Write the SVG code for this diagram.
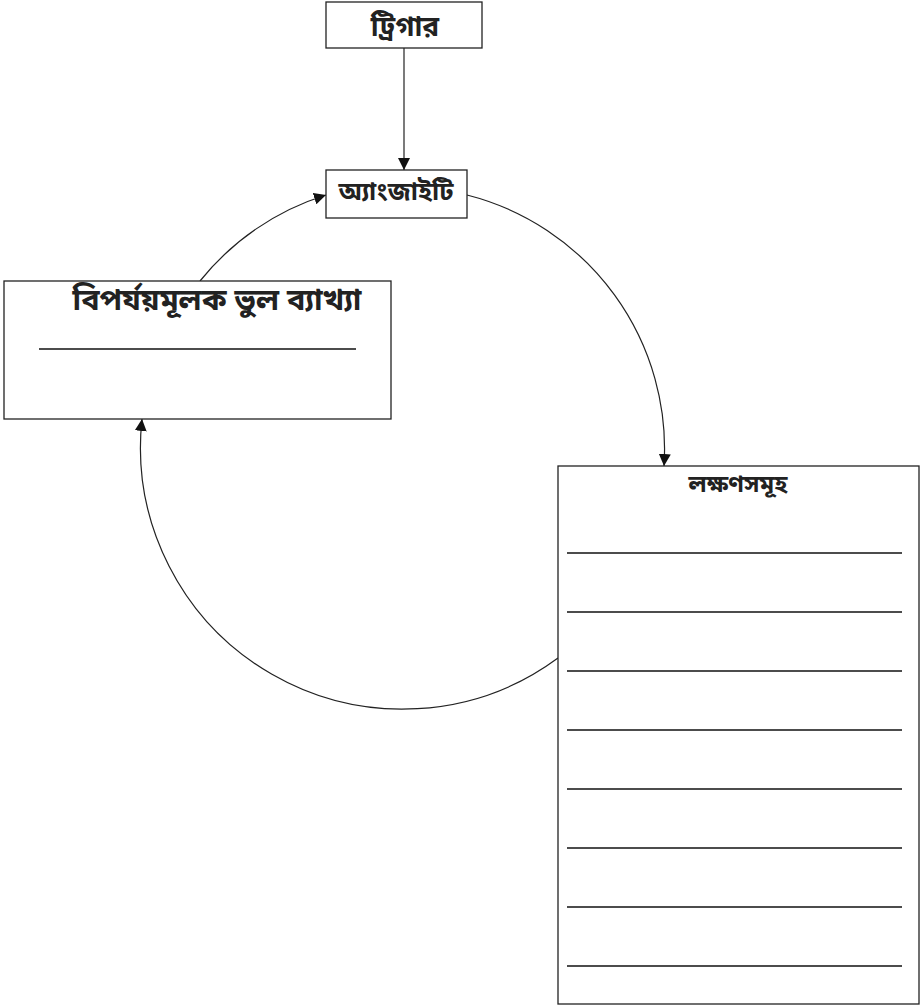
<svg xmlns="http://www.w3.org/2000/svg" width="923" height="1006" viewBox="0 0 923 1006">
<style>
.box{fill:#fff;stroke:#222;stroke-width:1.3}
.t{font-family:"Noto Sans Bengali","Noto Sans","Noto Sans CJK SC",sans-serif;font-weight:bold;fill:#222;text-anchor:middle}
.rule{stroke:#111;stroke-width:1.3}
.conn{fill:none;stroke:#222;stroke-width:1.2}
</style>
<defs>
<marker id="ah" viewBox="0 0 10 10" refX="10" refY="5" markerWidth="12" markerHeight="12" markerUnits="userSpaceOnUse" orient="auto">
<path d="M0,0 L10,5 L0,10 Z" fill="#111"/>
</marker>
</defs>
<rect width="923" height="1006" fill="#fff"/>
<g id="connectors">
<line class="conn" x1="404" y1="48" x2="404" y2="170" marker-end="url(#ah)"/>
<path class="conn" d="M467,195 A262,262 0 0 1 664,466" marker-end="url(#ah)"/>
<path class="conn" d="M558,658 A262,262 0 0 1 142,419" marker-end="url(#ah)"/>
<path class="conn" d="M200,281 A262,262 0 0 1 326,195" marker-end="url(#ah)"/>
</g>
<g id="trigger">
<rect class="box" x="326" y="2" width="156" height="46"/>
<text class="t" x="405" y="36" font-size="28">ট্রিগার</text>
</g>
<g id="anxiety">
<rect class="box" x="326" y="170" width="141" height="48"/>
<text class="t" x="396" y="200" font-size="25.5">অ্যাংজাইটি</text>
</g>
<g id="misinterpretation">
<rect class="box" x="4" y="281" width="387" height="138"/>
<text class="t" x="217" y="310" font-size="30.5">বিপর্যয়মূলক ভুল ব্যাখ্যা</text>
<line class="rule" x1="39" y1="349" x2="356" y2="349"/>
</g>
<g id="symptoms">
<rect class="box" x="558" y="466" width="361" height="538"/>
<text class="t" x="738" y="492" font-size="24">লক্ষণসমূহ</text>
<line class="rule" x1="567" y1="553" x2="902" y2="553"/>
<line class="rule" x1="567" y1="612" x2="902" y2="612"/>
<line class="rule" x1="567" y1="671" x2="902" y2="671"/>
<line class="rule" x1="567" y1="730" x2="902" y2="730"/>
<line class="rule" x1="567" y1="789" x2="902" y2="789"/>
<line class="rule" x1="567" y1="848" x2="902" y2="848"/>
<line class="rule" x1="567" y1="907" x2="902" y2="907"/>
<line class="rule" x1="567" y1="966" x2="902" y2="966"/>
</g>
</svg>
